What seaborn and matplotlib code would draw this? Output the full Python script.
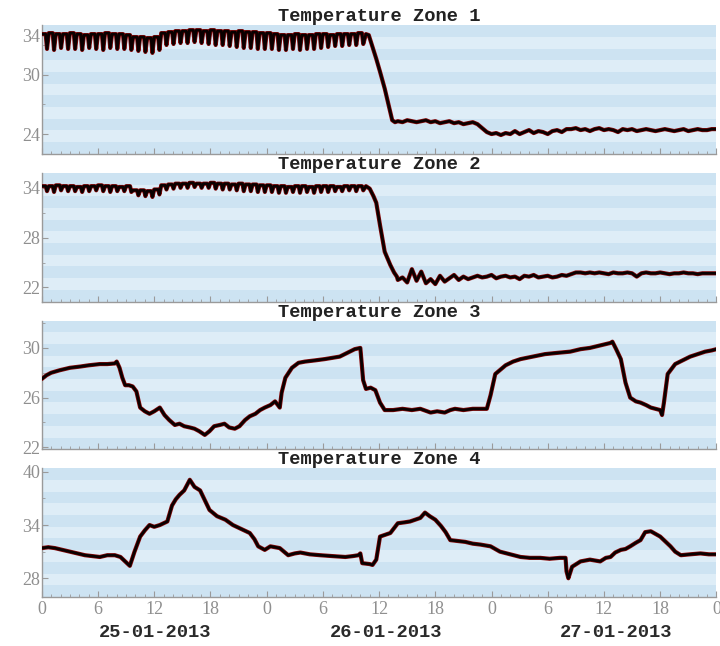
import numpy as np
import pandas as pd
import matplotlib
matplotlib.use("Agg")
import matplotlib.pyplot as plt
import seaborn as sns
from matplotlib.ticker import MultipleLocator, AutoMinorLocator, FuncFormatter

# ---- data (hours since 25-01-2013 00:00) ----
# zones 1 and 2 cycle on/off every ~0.75 h until the drop: top level and dip per cycle
zone1_top = [34.1, 34.2, 34.1, 34.1, 34.2, 34.1, 34.0, 34.1, 34.1, 34.2, 34.1, 34.1, 34.0,
             33.8, 33.8, 33.7, 33.8,
             34.2, 34.3, 34.4, 34.4, 34.5, 34.5, 34.4, 34.5, 34.4, 34.4, 34.3, 34.4, 34.3, 34.3, 34.2, 34.2,
             34.1, 34.0, 34.0, 34.1, 34.0, 34.0, 34.1, 34.1, 34.0, 34.1, 34.1, 34.1, 34.2]
zone1_dip = [32.6, 32.5, 32.7, 32.6, 32.6, 32.5, 32.7, 32.6, 32.5, 32.7, 32.6, 32.6, 32.5,
             32.4, 32.3, 32.2, 32.5,
             33.0, 33.1, 33.2, 33.2, 33.3, 33.2, 33.1, 33.0, 33.0, 32.9, 32.8, 32.7, 32.7, 32.6, 32.6, 32.6,
             32.5, 32.5, 32.6, 32.5, 32.6, 32.6, 32.7, 32.8, 32.9, 32.9, 33.0, 33.0, 33.1]
zone1_drop_hours = [34.6, 34.9, 35.3, 35.7, 36.1, 36.6, 37.0, 37.4, 37.7]
zone1_drop_temp = [34.1, 34.0, 32.8, 31.6, 30.3, 28.6, 27.0, 25.4, 25.2]
zone1_tail = [25.3, 25.2, 25.4, 25.3, 25.2, 25.3, 25.4, 25.2, 25.3, 25.1, 25.2, 25.3, 25.1, 25.2, 25.0, 25.1, 25.2, 25.0,
              24.6, 24.2, 24.0, 24.1, 23.9, 24.1, 24.0,
              24.3, 24.0, 24.2, 24.4, 24.1, 24.3, 24.2, 24.0, 24.3, 24.4, 24.2, 24.5,
              24.5, 24.6, 24.4, 24.5, 24.3, 24.5, 24.6, 24.4, 24.5, 24.4, 24.2, 24.5, 24.4, 24.5, 24.3, 24.4,
              24.5, 24.4, 24.3, 24.4, 24.5, 24.4, 24.3, 24.4, 24.5, 24.3, 24.4, 24.5, 24.4, 24.4, 24.5, 24.5]

zone2_top = [34.2, 34.2, 34.3, 34.2, 34.2, 34.1, 34.2, 34.2, 34.3, 34.2, 34.2, 34.1, 34.2,
             33.7, 33.7, 33.6, 33.8,
             34.3, 34.4, 34.5, 34.5, 34.6, 34.5, 34.5, 34.6, 34.5, 34.5, 34.4, 34.5, 34.4, 34.4, 34.3, 34.3,
             34.2, 34.2, 34.1, 34.2, 34.2, 34.1, 34.2, 34.2, 34.2, 34.1, 34.2, 34.2, 34.2]
zone2_dip = [33.6, 33.5, 33.7, 33.6, 33.6, 33.5, 33.6, 33.7, 33.6, 33.5, 33.6, 33.6, 33.5,
             33.1, 33.0, 32.9, 33.2,
             33.8, 33.9, 34.0, 34.0, 34.1, 34.0, 34.0, 33.9, 33.8, 33.8, 33.7, 33.6, 33.6, 33.5, 33.5, 33.5,
             33.4, 33.4, 33.5, 33.4, 33.5, 33.4, 33.5, 33.5, 33.6, 33.6, 33.7, 33.6, 33.7]
zone2_drop_hours = [34.6, 35.0, 35.4, 35.7, 36.1, 36.6, 37.2, 37.6, 37.9]
zone2_drop_temp = [34.2, 33.9, 33.0, 32.2, 29.5, 26.3, 24.7, 23.8, 23.3]
zone2_tail = [22.9, 23.2, 22.6, 24.2, 22.8, 23.9, 22.5, 23.0, 22.4, 23.4, 22.7, 23.1, 23.5, 22.9, 23.3, 23.0, 23.2,
              23.4, 23.2, 23.3, 23.5, 23.1, 23.3, 23.4, 23.2, 23.3, 23.0, 23.4, 23.3, 23.5, 23.2, 23.3, 23.4,
              23.2, 23.3, 23.5, 23.4, 23.6,
              23.8, 23.8, 23.7, 23.8, 23.7, 23.8, 23.7, 23.6, 23.8, 23.7, 23.7, 23.8, 23.7, 23.3, 23.7, 23.8,
              23.7, 23.7, 23.8, 23.7, 23.6, 23.7, 23.7, 23.8, 23.7, 23.7, 23.6, 23.7, 23.7, 23.7, 23.7]

zone3_hours = [0, 0.5, 1, 1.9, 3, 4.1, 5, 6.2, 7, 7.8, 8.0, 8.3, 8.6, 8.9, 9.3, 9.7, 10.1, 10.5, 11.0, 11.5,
               12.0, 12.6, 13.1, 13.6, 14.2, 14.7, 15.2, 15.8, 16.3, 16.8, 17.4, 17.9, 18.4, 19.0, 19.5,
               20.0, 20.6, 21.1, 21.7, 22.2, 22.8, 23.3, 23.8, 24.4, 24.9, 25.4, 25.6, 26.0, 26.7, 27.4,
               28.1, 29.2, 30.2, 31.0, 31.8, 32.6, 33.4, 34.0, 34.3, 34.6, 35.1, 35.6, 36.1, 36.6, 37.5,
               38.5, 39.5, 40.4, 41.5, 42.2, 43.0, 43.6, 44.1, 45.0, 46.0, 46.8, 47.5, 47.9, 48.4, 49.5,
               50.3, 51.1, 52.4, 53.7, 55.0, 56.4, 57.5, 58.5, 59.6, 60.7, 60.9, 61.3, 61.8, 62.3, 62.8,
               63.4, 63.9, 64.5, 65.0, 65.5, 66.0, 66.2, 66.4, 66.8, 67.6, 68.4, 69.2, 70.0, 70.8, 71.5, 72.0]
zone3_temp = [27.5, 27.8, 28.0, 28.2, 28.4, 28.5, 28.6, 28.7, 28.7, 28.75, 28.9, 28.4, 27.6, 27.0, 27.0, 26.9,
              26.5, 25.2, 24.9, 24.7, 24.9, 25.2, 24.6, 24.2, 23.8, 23.9, 23.7, 23.6, 23.5, 23.3, 23.0, 23.3,
              23.7, 23.8, 23.9, 23.6, 23.5, 23.7, 24.2, 24.5, 24.7, 25.0, 25.2, 25.4, 25.7, 25.2, 26.4, 27.6,
              28.4, 28.8, 28.9, 29.0, 29.1, 29.2, 29.3, 29.6, 29.9, 30.0, 27.4, 26.7, 26.8, 26.6, 25.6, 25.0,
              25.0, 25.1, 25.0, 25.1, 24.8, 24.9, 24.8, 25.0, 25.1, 25.0, 25.1, 25.1, 25.1, 26.2, 27.9, 28.6,
              28.9, 29.1, 29.3, 29.5, 29.6, 29.7, 29.9, 30.0, 30.2, 30.4, 30.5, 29.9, 29.1, 27.2, 26.0, 25.7,
              25.6, 25.4, 25.2, 25.1, 25.0, 24.6, 25.6, 27.9, 28.7, 29.0, 29.3, 29.5, 29.7, 29.8, 29.9]

zone4_hours = [0, 0.7, 1.4, 2.2, 3.0, 3.8, 4.6, 5.4, 6.2, 7.0, 7.8, 8.4, 8.9, 9.4, 9.9, 10.5, 11.0, 11.5,
               12.0, 12.6, 13.4, 13.9, 14.3, 14.7, 15.2, 15.8, 16.3, 16.9, 17.4, 17.9, 18.7, 19.6, 20.4,
               21.2, 22.2, 22.7, 23.1, 23.8, 24.4, 25.4, 26.3, 27.0, 27.6, 28.6, 29.7, 31.0, 32.4, 33.2,
               33.8, 34.0, 34.2, 35.0, 35.3, 35.7, 36.1, 37.2, 38.0, 38.7, 39.3, 40.4, 40.9, 41.4, 42.0,
               42.6, 43.1, 43.6, 44.4, 45.2, 46.0, 46.8, 47.9, 48.9, 50.0, 51.1, 52.1, 53.2, 54.2, 55.3,
               55.9, 56.0, 56.2, 56.6, 57.5, 58.5, 59.6, 60.2, 60.7, 61.2, 61.8, 62.3, 62.8, 63.4, 63.9,
               64.4, 65.0, 65.5, 66.0, 66.6, 67.1, 67.6, 68.2, 69.2, 70.3, 71.2, 72.0]
zone4_temp = [31.4, 31.5, 31.4, 31.2, 31.0, 30.8, 30.6, 30.5, 30.4, 30.6, 30.6, 30.4, 29.9, 29.4, 31.0, 32.7,
              33.4, 34.0, 33.8, 34.0, 34.4, 36.2, 36.9, 37.4, 37.9, 39.1, 38.3, 37.9, 36.8, 35.7, 35.0, 34.6,
              34.0, 33.6, 33.1, 32.4, 31.6, 31.2, 31.6, 31.4, 30.6, 30.8, 30.9, 30.7, 30.6, 30.5, 30.4, 30.5,
              30.6, 30.8, 29.7, 29.6, 29.5, 30.1, 32.7, 33.1, 34.2, 34.3, 34.4, 34.8, 35.4, 35.0, 34.6, 33.9,
              33.2, 32.3, 32.2, 32.1, 31.9, 31.8, 31.6, 31.0, 30.7, 30.4, 30.3, 30.3, 30.2, 30.3, 30.3, 28.8,
              28.0, 29.3, 29.9, 30.1, 29.9, 30.3, 30.4, 30.9, 31.2, 31.3, 31.6, 32.0, 32.3, 33.2, 33.3, 33.0,
              32.7, 32.1, 31.6, 31.0, 30.6, 30.7, 30.8, 30.7, 30.7]

y_limits = [(22.0, 35.0), (20.3, 35.8), (21.85, 32.2), (25.9, 40.4)]
y_ticks = [[24, 30, 34], [22, 28, 34], [22, 26, 30], [28, 34, 40]]
dates = ["25-01-2013", "26-01-2013", "27-01-2013"]
date_hours = [12.1, 36.8, 61.3]


def cycling_series(top, dip, drop_h, drop_t, tail):
    # each on/off cycle: long plateau, then a short spike down
    starts = np.arange(len(top)) * 0.75
    h = np.column_stack([starts, starts + 0.42, starts + 0.56]).ravel()
    t = np.column_stack([top, top, dip]).ravel()
    tail_h = 38 + 0.5 * np.arange(len(tail))
    return (np.concatenate([h, drop_h, tail_h]),
            np.concatenate([t, drop_t, tail]))


frames = []
for name, (h, t) in {
    "Temperature Zone 1": cycling_series(zone1_top, zone1_dip, zone1_drop_hours, zone1_drop_temp, zone1_tail),
    "Temperature Zone 2": cycling_series(zone2_top, zone2_dip, zone2_drop_hours, zone2_drop_temp, zone2_tail),
    "Temperature Zone 3": (zone3_hours, zone3_temp),
    "Temperature Zone 4": (zone4_hours, zone4_temp),
}.items():
    frames.append(pd.DataFrame({"zone": name, "hour": h, "temp": t}))
df = pd.concat(frames, ignore_index=True)

sns.set_style("ticks")
plt.rcParams["font.family"] = ["Liberation Serif", "DejaVu Sans"]

fig, axes = plt.subplots(4, 1, figsize=(7.2, 6.46), dpi=100)
fig.subplots_adjust(left=0.058, right=0.995, top=0.961, bottom=0.076, hspace=0.148)

for i, (ax, zone) in enumerate(zip(axes, df["zone"].unique())):
    lo, hi = y_limits[i]
    edges = np.linspace(lo, hi, 12)
    for k in range(len(edges) - 1):
        ax.axhspan(edges[k], edges[k + 1], color="#cde3f2" if k % 2 == 0 else "#deedf7", lw=0, zorder=0)

    d = df[df["zone"] == zone]
    sns.lineplot(data=d, x="hour", y="temp", ax=ax, color="#8a0a0a", lw=3.0, sort=False, zorder=3)
    sns.lineplot(data=d, x="hour", y="temp", ax=ax, color="#0a0000", lw=2.0, sort=False, zorder=4)

    ax.set_xlim(0, 72)
    ax.set_ylim(lo, hi)
    ax.set_yticks(y_ticks[i])
    ax.yaxis.set_minor_locator(AutoMinorLocator(2))
    ax.xaxis.set_major_locator(MultipleLocator(6))
    ax.xaxis.set_minor_locator(MultipleLocator(1))
    ax.set_xlabel("")
    ax.set_ylabel("")
    ax.set_title(zone, fontfamily="Liberation Mono", fontweight="bold", fontsize=13.5, color="#222222", pad=2)

    for s in ["top", "right"]:
        ax.spines[s].set_visible(False)
    for s in ["left", "bottom"]:
        ax.spines[s].set_color("#9a9a9a")
        ax.spines[s].set_linewidth(1.0)
    ax.tick_params(which="both", direction="in", color="#9a9a9a", labelcolor="#8f8f8f", labelsize=13)
    ax.tick_params(which="major", length=4)
    ax.tick_params(which="minor", length=2.5)
    ax.tick_params(axis="y", pad=1)

    if i < 3:
        ax.tick_params(axis="x", labelbottom=False)
    else:
        ax.xaxis.set_major_formatter(FuncFormatter(lambda v, p: f"{int(v) % 24}"))
        ax.tick_params(axis="x", pad=3)
        for lab, hx in zip(dates, date_hours):
            ax.text(hx, -0.28, lab, transform=ax.get_xaxis_transform(), ha="center", va="center",
                    fontfamily="Liberation Mono", fontweight="bold", fontsize=13.5, color="#2a2a2a")

fig.savefig("out.png", dpi=100)
